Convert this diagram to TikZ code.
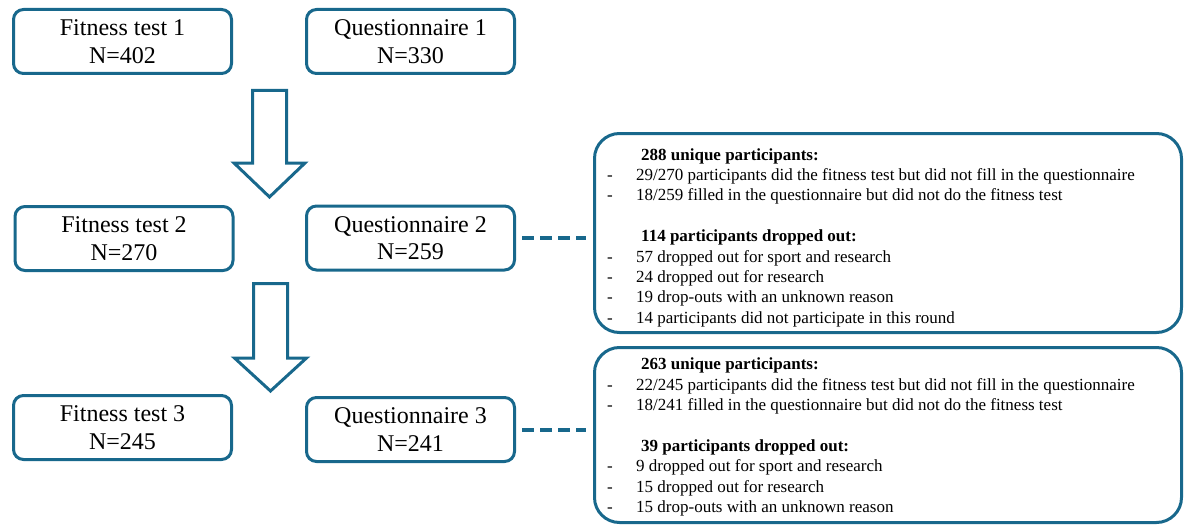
\documentclass[tikz,border=0pt]{standalone}
\usepackage{fontspec}
\setmainfont{Liberation Serif}
\definecolor{frameblue}{RGB}{24,104,140}
\begin{document}
\begin{tikzpicture}[x=1pt,y=-1pt,
  smallbox/.style={draw=frameblue, line width=3pt, rounded corners=10pt,
    minimum width=218pt, minimum height=64pt, align=center, inner sep=0pt,
    font=\fontsize{24}{27.5}\selectfont},
  bigbox/.style={draw=frameblue, line width=3pt, rounded corners=25pt, inner sep=0pt},
  link/.style={draw=frameblue, line width=4pt, dash pattern=on 12pt off 6pt,
    shorten <=6pt, shorten >=7pt},
  blockarrow/.style={draw=frameblue, line width=3pt, line join=miter},
  listtext/.style={anchor=north west, inner sep=0pt, align=left,
    font=\fontsize{17}{20.4}\selectfont}
]
\useasboundingbox (0,0) rectangle (1192,527);

% small boxes
\node[smallbox] (F1) at (122.5,41.5) {Fitness test 1\\N=402};
\node[smallbox, minimum width=208pt] (Q1) at (410.5,41.5) {Questionnaire 1\\N=330};
\node[smallbox] (F2) at (124,238.5) {Fitness test 2\\N=270};
\node[smallbox, minimum width=208pt] (Q2) at (410.5,238) {Questionnaire 2\\N=259};
\node[smallbox] (F3) at (122.5,427.5) {Fitness test 3\\N=245};
\node[smallbox, minimum width=208pt] (Q3) at (410.5,429.5) {Questionnaire 3\\N=241};

% big boxes
\node[bigbox, minimum width=587pt, minimum height=199pt] (B1) at (888,233) {};
\node[bigbox, minimum width=587pt, minimum height=175pt] (B2) at (888,435) {};

% block arrows
\draw[blockarrow] (252.5,90.5) -- (286.5,90.5) -- (286.5,163) -- (305,163)
  -- (269.5,197) -- (234,163) -- (252.5,163) -- cycle;
\draw[blockarrow] (253.5,283.5) -- (287.5,283.5) -- (287.5,358) -- (306.5,358)
  -- (270.5,391) -- (234.5,358) -- (253.5,358) -- cycle;

% dashed links
\draw[link] (Q2.east) -- (Q2.east -| B1.west);
\draw[link] (Q3.east) -- (Q3.east -| B2.west);

% texts of the big boxes
\node[listtext] (T1) at (607,145.7) {%
\begin{tabular}{@{}p{29pt}@{}l@{}}
\multicolumn{2}{@{}l@{}}{\hspace{34pt}\textbf{288 unique participants:}}\\
-& 29/270 participants did the fitness test but did not fill in the questionnaire\\
-& 18/259 filled in the questionnaire but did not do the fitness test\\
\multicolumn{2}{@{}l@{}}{}\\
\multicolumn{2}{@{}l@{}}{\hspace{34pt}\textbf{114 participants dropped out:}}\\
-& 57 dropped out for sport and research\\
-& 24 dropped out for research\\
-& 19 drop-outs with an unknown reason\\
-& 14 participants did not participate in this round
\end{tabular}};
\node[listtext] (T2) at (607,355.2) {%
\begin{tabular}{@{}p{29pt}@{}l@{}}
\multicolumn{2}{@{}l@{}}{\hspace{34pt}\textbf{263 unique participants:}}\\
-& 22/245 participants did the fitness test but did not fill in the questionnaire\\
-& 18/241 filled in the questionnaire but did not do the fitness test\\
\multicolumn{2}{@{}l@{}}{}\\
\multicolumn{2}{@{}l@{}}{\hspace{34pt}\textbf{39 participants dropped out:}}\\
-& 9 dropped out for sport and research\\
-& 15 dropped out for research\\
-& 15 drop-outs with an unknown reason
\end{tabular}};
\end{tikzpicture}
\end{document}
